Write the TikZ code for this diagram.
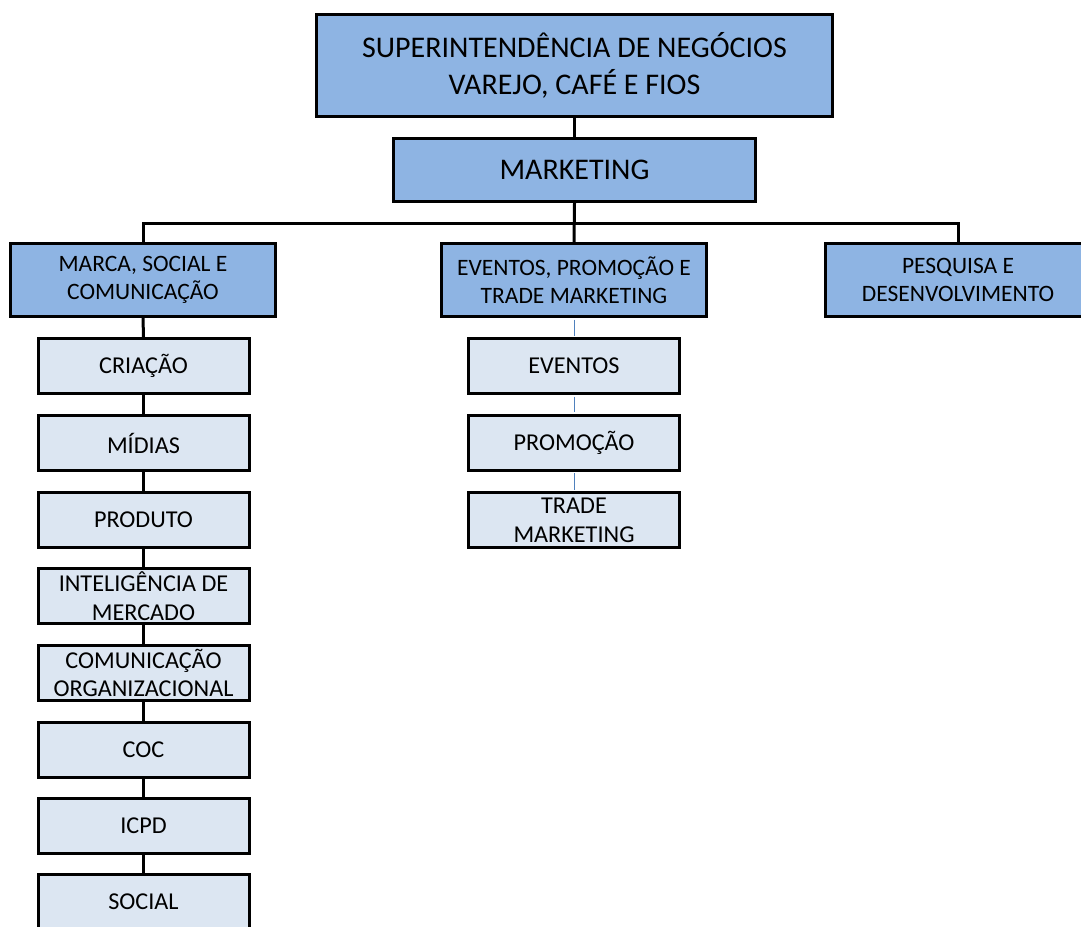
\documentclass[tikz,border=0pt]{standalone}
\usepackage{fontspec}
\setmainfont{Carlito}
\definecolor{headblue}{HTML}{8EB4E3}
\definecolor{subblue}{HTML}{DCE6F2}
\definecolor{linkblue}{HTML}{4F81BD}
\begin{document}
\begin{tikzpicture}[x=1pt,y=-1pt,
  box/.style={draw=black, line width=3pt, inner sep=0pt, align=center, text=black},
  bigbox/.style={box, fill=headblue, font=\fontsize{30}{36.6}\selectfont},
  areabox/.style={box, fill=headblue, minimum width=265pt, minimum height=73pt,
                  font=\fontsize{23.5}{28.5}\selectfont},
  unitbox/.style={box, fill=subblue, minimum width=211pt, minimum height=55pt,
                  font=\fontsize{24.2}{28.8}\selectfont},
  link/.style={draw=black, line width=3pt},
  thinlink/.style={draw=linkblue, line width=1pt, shorten <=1.5pt, shorten >=1.5pt}]
\clip (0,0) rectangle (1081,926);
\fill[white] (0,0) rectangle (1081,926);

% top of the chart
\node[bigbox, minimum width=516pt, minimum height=102pt] (sup) at (574.5,65.5)
  {SUPERINTENDÊNCIA DE NEGÓCIOS\\VAREJO, CAFÉ E FIOS};
\node[bigbox, minimum width=362pt, minimum height=63pt] (mkt) at (574.5,170) {MARKETING};

% areas
\node[areabox] (marca) at (143,280) {MARCA, SOCIAL E\\COMUNICAÇÃO};
\node[areabox] (evt)   at (574,280) {EVENTOS, PROMOÇÃO E\\TRADE MARKETING};
\node[areabox] (pesq)  at (958,280) {PESQUISA E\\DESENVOLVIMENTO};

% units under brand, social and communication
\node[unitbox] (m1) at (143.5,366)   {CRIAÇÃO};
\node[unitbox] (m2) at (143.5,443)   {MÍDIAS};
\node[unitbox] (m3) at (143.5,520)   {PRODUTO};
\node[unitbox] (m4) at (143.5,596)   {INTELIGÊNCIA DE\\MERCADO};
\node[unitbox] (m5) at (143.5,673)   {COMUNICAÇÃO\\ORGANIZACIONAL};
\node[unitbox] (m6) at (143.5,749.5) {COC};
\node[unitbox] (m7) at (143.5,826)   {ICPD};
\node[unitbox] (m8) at (143.5,902)   {SOCIAL};

% units under events, promotion and trade marketing
\node[unitbox] (e1) at (574,366)   {EVENTOS};
\node[unitbox] (e2) at (574,442.5) {PROMOÇÃO};
\node[unitbox] (e3) at (574,520)   {TRADE\\MARKETING};

% connectors
\coordinate (bus) at (574.5,223);
\draw[link] (sup.south) -- (mkt.north);
\draw[link] (mkt.south) -- (evt.north);
\draw[link, line join=miter] (marca.north) |- (bus) -| (pesq.north);
\draw[link] (marca.south) -- (m1.north);
\foreach \a/\b in {m1/m2, m2/m3, m3/m4, m4/m5, m5/m6, m6/m7, m7/m8}
  \draw[link] (\a.south) -- (\b.north);
\draw[thinlink] (evt.south) -- (e1.north);
\draw[thinlink] (e1.south) -- (e2.north);
\draw[thinlink] (e2.south) -- (e3.north);
\end{tikzpicture}
\end{document}
